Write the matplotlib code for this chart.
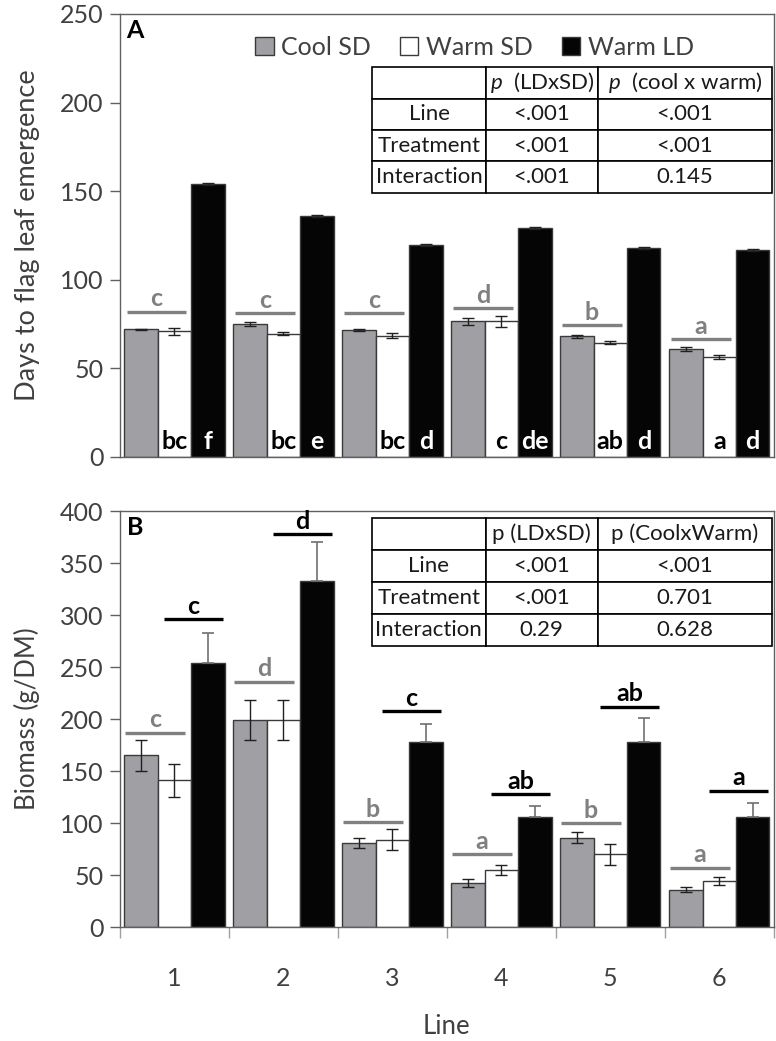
import numpy as np
import matplotlib
matplotlib.use("Agg")
import matplotlib.pyplot as plt
from matplotlib.patches import Patch

plt.rcParams['font.family'] = ['Lato', 'DejaVu Sans']
plt.rcParams['mathtext.fontset'] = 'custom'
plt.rcParams['mathtext.rm'] = 'Lato'
plt.rcParams['mathtext.it'] = 'Lato:italic'

# ---------------- data ----------------
lines = ['1', '2', '3', '4', '5', '6']
series = ['Cool SD', 'Warm SD', 'Warm LD']

# Panel A: days to flag leaf emergence
days_cool_sd = [72, 75, 71.5, 76.5, 68, 61]
days_cool_sd_err = [0.5, 1.0, 0.5, 1.8, 1.0, 1.0]
days_warm_sd = [71, 69.5, 68.5, 76.5, 64.5, 56.5]
days_warm_sd_err = [2.0, 0.8, 1.5, 3.0, 1.0, 1.0]
days_warm_ld = [154, 136, 119.5, 129, 118, 117]
days_warm_ld_err = [0.5, 0.5, 0.5, 0.5, 0.5, 0.5]
days_sd_letters = ['c', 'c', 'c', 'd', 'b', 'a']
days_sd_letter_y = [82, 81, 81, 84, 74.5, 66.5]
days_warm_sd_letters = ['bc', 'bc', 'bc', 'c', 'ab', 'a']
days_warm_ld_letters = ['f', 'e', 'd', 'de', 'd', 'd']

table_a_cols = ['', '$p$  (LDxSD)', '$p$  (cool x warm)']
table_a_rows = ['Line', 'Treatment', 'Interaction']
table_a_ldsd = ['<.001', '<.001', '<.001']
table_a_cw = ['<.001', '<.001', '0.145']

# Panel B: biomass
bio_cool_sd = [165, 199, 81, 42, 86, 36]
bio_cool_sd_err = [15, 19, 5, 4, 5.5, 2.5]
bio_warm_sd = [141, 199, 84, 55, 70, 44]
bio_warm_sd_err = [16, 19, 10, 5, 10, 4]
bio_warm_ld = [254, 333, 178, 106, 178, 106]
bio_warm_ld_err = [29, 37, 17, 10, 23, 13]
bio_sd_letters = ['c', 'd', 'b', 'a', 'b', 'a']
bio_sd_letter_y = [187, 236, 100.5, 70, 100, 57]
bio_ld_letters = ['c', 'd', 'c', 'ab', 'ab', 'a']
bio_ld_letter_y = [296, 377.5, 207.5, 127.5, 212, 131]

table_b_cols = ['', 'p (LDxSD)', 'p (CoolxWarm)']
table_b_rows = ['Line', 'Treatment', 'Interaction']
table_b_ldsd = ['<.001', '<.001', '0.29']
table_b_cw = ['<.001', '0.701', '0.628']

# ---------------- style ----------------
C_GRAY = '#a0a0a4'
C_WHITE = '#ffffff'
C_BLACK = '#050505'
EDGE = '#3a3a3a'
LETTER_GRAY = '#808080'
AX_COL = '#606060'
TXT_COL = '#404040'

fig = plt.figure(figsize=(7.76, 10.41), dpi=100)
axA = fig.add_axes([0.1546, 0.561, 0.8425, 0.4256])
axB = fig.add_axes([0.1546, 0.1095, 0.8425, 0.3996])

x = np.arange(len(lines))
w = 0.307


def draw_bars(ax, cool, cool_err, wsd, wsd_err, wld, wld_err, ld_upper_only):
    ax.bar(x - w, cool, w, color=C_GRAY, edgecolor=EDGE, linewidth=1, zorder=2)
    ax.bar(x, wsd, w, color=C_WHITE, edgecolor=EDGE, linewidth=1, zorder=2)
    ax.bar(x + w, wld, w, color=C_BLACK, edgecolor=EDGE, linewidth=1, zorder=2)
    ek = dict(fmt='none', ecolor='#202020', elinewidth=1, capsize=4, capthick=1, zorder=3)
    ax.errorbar(x - w, cool, yerr=cool_err, **ek)
    ax.errorbar(x, wsd, yerr=wsd_err, **ek)
    if ld_upper_only:
        ax.errorbar(x + w, wld, yerr=[np.zeros(len(wld)), wld_err],
                    fmt='none', ecolor='#707070', elinewidth=1.2, capsize=4,
                    capthick=1.2, zorder=3)
    else:
        ax.errorbar(x + w, wld, yerr=wld_err, **ek)


def style_axis(ax, ymax, ystep):
    ax.set_xlim(-0.5, len(lines) - 0.5)
    ax.set_ylim(0, ymax)
    ax.set_yticks(np.arange(0, ymax + 1, ystep))
    for s in ax.spines.values():
        s.set_color(AX_COL)
        s.set_linewidth(1)
    ax.tick_params(axis='y', direction='out', length=7, width=1, color=AX_COL,
                   labelsize=18, labelcolor=TXT_COL, pad=5)


# ---------- Panel A ----------
draw_bars(axA, days_cool_sd, days_cool_sd_err, days_warm_sd, days_warm_sd_err,
          days_warm_ld, days_warm_ld_err, False)
style_axis(axA, 250, 50)
axA.set_xticks([])
axA.set_ylabel('Days to flag leaf emergence', fontsize=19.5, color=TXT_COL, labelpad=14)

for i in range(len(lines)):
    y = days_sd_letter_y[i]
    axA.plot([x[i] - 0.44, x[i] + 0.105], [y, y], color=LETTER_GRAY, lw=2.4,
             solid_capstyle='butt', zorder=4)
    axA.annotate(days_sd_letters[i], (x[i] - 0.17, y), xytext=(0, 1),
                 textcoords='offset points', ha='center', va='bottom',
                 fontsize=18, fontweight='bold', color=LETTER_GRAY)
    axA.text(x[i], 4.5, days_warm_sd_letters[i], ha='center', va='baseline',
             fontsize=18, fontweight='bold', color='black', zorder=5)
    axA.text(x[i] + w, 4.5, days_warm_ld_letters[i], ha='center', va='baseline',
             fontsize=18, fontweight='bold', color='white', zorder=5)

axA.text(0.010, 0.963, 'A', transform=axA.transAxes, fontsize=18,
         fontweight='bold', ha='left', va='center', color='black')

handles = [Patch(facecolor=c, edgecolor=EDGE, linewidth=1)
           for c in (C_GRAY, C_WHITE, C_BLACK)]
axA.legend(handles, series, ncol=3, loc='center', bbox_to_anchor=(0.542, 0.925),
           frameon=False, fontsize=18, handlelength=0.75, handleheight=0.75,
           handletextpad=0.3, columnspacing=1.15, labelcolor=TXT_COL)


def draw_table(ax, cols, rows, c1, c2, bbox):
    cell_text = [cols] + [[r, a, b] for r, a, b in zip(rows, c1, c2)]
    tb = ax.table(cellText=cell_text, cellLoc='center', bbox=bbox,
                  colWidths=[114 / 400, 112 / 400, 174 / 400])
    tb.auto_set_font_size(False)
    for (r, c), cell in tb.get_celld().items():
        cell.set_edgecolor('black')
        cell.set_linewidth(1.2)
        cell.set_facecolor('white')
        cell.PAD = 0.02
        cell.get_text().set_fontsize(16)
        cell.get_text().set_color('#1a1a1a')
    tb.set_zorder(6)
    return tb


draw_table(axA, table_a_cols, table_a_rows, table_a_ldsd, table_a_cw,
           [0.386, 0.596, 0.611, 0.284])

# ---------- Panel B ----------
draw_bars(axB, bio_cool_sd, bio_cool_sd_err, bio_warm_sd, bio_warm_sd_err,
          bio_warm_ld, bio_warm_ld_err, True)
style_axis(axB, 400, 50)
axB.set_ylabel('Biomass (g/DM)', fontsize=18.5, color=TXT_COL, labelpad=14)
axB.set_xticks(np.arange(-0.5, len(lines), 1.0))
axB.set_xticklabels([])
axB.set_xticks(x, minor=True)
axB.set_xticklabels(lines, minor=True)
axB.tick_params(axis='x', which='major', direction='out', length=8, width=1,
                color='#a0a0a0')
axB.tick_params(axis='x', which='minor', length=0, pad=29, labelsize=18,
                labelcolor=TXT_COL)
axB.set_xlabel('Line', fontsize=18.5, color=TXT_COL, labelpad=17)

for i in range(len(lines)):
    y = bio_sd_letter_y[i]
    axB.plot([x[i] - 0.45, x[i] + 0.095], [y, y], color=LETTER_GRAY, lw=2.4,
             solid_capstyle='butt', zorder=4)
    axB.annotate(bio_sd_letters[i], (x[i] - 0.18, y), xytext=(0, 1),
                 textcoords='offset points', ha='center', va='bottom',
                 fontsize=18, fontweight='bold', color=LETTER_GRAY)
    y2 = bio_ld_letter_y[i]
    axB.plot([x[i] - 0.095, x[i] + 0.445], [y2, y2], color='black', lw=2.4,
             solid_capstyle='butt', zorder=4)
    axB.annotate(bio_ld_letters[i], (x[i] + 0.175, y2), xytext=(0, 1),
                 textcoords='offset points', ha='center', va='bottom',
                 fontsize=18, fontweight='bold', color='black')

axB.text(0.010, 0.960, 'B', transform=axB.transAxes, fontsize=18,
         fontweight='bold', ha='left', va='center', color='black')

draw_table(axB, table_b_cols, table_b_rows, table_b_ldsd, table_b_cw,
           [0.385, 0.675, 0.612, 0.308])

fig.savefig('out.png', dpi=100)
